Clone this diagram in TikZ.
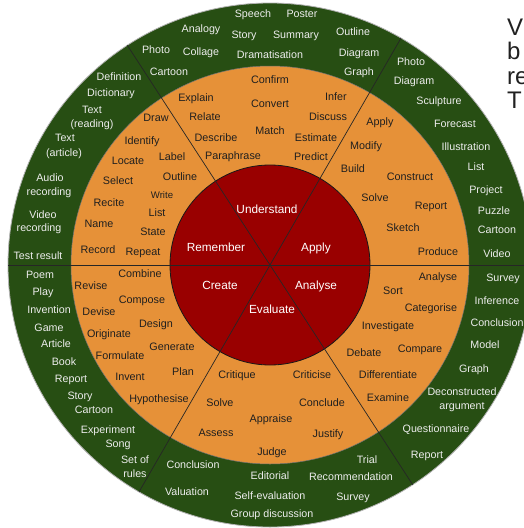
\documentclass[tikz,border=0pt]{standalone}
\usepackage{fontspec}
\setmainfont{Liberation Sans}
\definecolor{wheelgreen}{HTML}{274E13}
\definecolor{wheelorange}{HTML}{E69138}
\definecolor{wheelred}{HTML}{990000}
% label placed by the visual centre of its word
\newcommand\wlabel[5]{\node[#2, anchor=base] (#1) at (#3,#4+3.6) {#5};}
\begin{document}
\begin{tikzpicture}[x=1pt,y=-1pt,
  outtxt/.style={text=white!93!black, font=\fontsize{10.7}{13}\selectfont, inner sep=0pt},
  midtxt/.style={text=black!88, font=\fontsize{10.8}{13}\selectfont, inner sep=0pt},
  smalltxt/.style={midtxt, font=\fontsize{9.6}{12}\selectfont},
  coretxt/.style={text=white, font=\fontsize{11.8}{14}\selectfont, inner sep=0pt},
  sidetxt/.style={text=black!87, font=\fontsize{24}{24}\selectfont, inner sep=0pt, anchor=base west},
  divider/.style={draw=black!85, line width=0.7pt}]

\clip (0,0) rectangle (524,528);
\fill[white] (0,0) rectangle (524,528);
\coordinate (c) at (270,265);

% rings
\filldraw[fill=wheelgreen, draw=black!30, line width=0.8pt] (c) circle[radius=262];
\filldraw[fill=wheelorange, draw=black!55, line width=0.5pt] (c) circle[radius=199];
\filldraw[fill=wheelred, draw=black!90, line width=0.8pt] (c) circle[radius=100];

% ends of the three diameters (angles run clockwise here)
\path (c) ++(0:262) coordinate (e0);
\path (c) ++(180:262) coordinate (e180);
\path (c) ++(-60:262) coordinate (e60);
\path (c) ++(120:262) coordinate (e240);
\path (c) ++(-123:262) coordinate (e123);
\path (c) ++(57:262) coordinate (e303);
\draw[divider] (e0) -- (e180);
\draw[divider] (e60) -- (e240);
\draw[divider] (e123) -- (e303);

% core
\wlabel{r-understand}{coretxt}{267}{210}{Understand}
\wlabel{r-remember}{coretxt}{216}{248}{Remember}
\wlabel{r-apply}{coretxt}{316}{248}{Apply}
\wlabel{r-create}{coretxt}{220}{286}{Create}
\wlabel{r-analyse}{coretxt}{316}{286}{Analyse}
\wlabel{r-evaluate}{coretxt}{272}{310}{Evaluate}

% middle ring: verbs
\wlabel{o-confirm}{midtxt}{270}{80}{Confirm}
\wlabel{o-convert}{midtxt}{270}{104}{Convert}
\wlabel{o-match}{midtxt}{270}{131}{Match}
\wlabel{o-explain}{midtxt}{196}{98}{Explain}
\wlabel{o-relate}{midtxt}{205}{117}{Relate}
\wlabel{o-describe}{midtxt}{216}{138}{Describe}
\wlabel{o-paraphrase}{midtxt}{233}{156}{Paraphrase}
\wlabel{o-infer}{midtxt}{336}{97}{Infer}
\wlabel{o-discuss}{midtxt}{328}{117}{Discuss}
\wlabel{o-estimate}{midtxt}{316}{138}{Estimate}
\wlabel{o-predict}{midtxt}{311}{157}{Predict}
\wlabel{o-apply}{midtxt}{380}{122}{Apply}
\wlabel{o-modify}{midtxt}{366}{146}{Modify}
\wlabel{o-build}{midtxt}{353}{169}{Build}
\wlabel{o-construct}{midtxt}{410}{177}{Construct}
\wlabel{o-solve1}{midtxt}{375}{198}{Solve}
\wlabel{o-report}{midtxt}{431}{206}{Report}
\wlabel{o-sketch}{midtxt}{403}{228}{Sketch}
\wlabel{o-produce}{midtxt}{438}{252}{Produce}
\wlabel{o-analyse}{midtxt}{438}{277}{Analyse}
\wlabel{o-sort}{midtxt}{393}{291}{Sort}
\wlabel{o-categorise}{midtxt}{431}{308}{Categorise}
\wlabel{o-investigate}{midtxt}{388}{326}{Investigate}
\wlabel{o-debate}{midtxt}{364}{353}{Debate}
\wlabel{o-compare}{midtxt}{420}{349}{Compare}
\wlabel{o-differentiate}{midtxt}{388}{375}{Differentiate}
\wlabel{o-examine}{midtxt}{388}{398}{Examine}
\wlabel{o-criticise}{midtxt}{312}{375}{Criticise}
\wlabel{o-conclude}{midtxt}{322}{403}{Conclude}
\wlabel{o-justify}{midtxt}{328}{434}{Justify}
\wlabel{o-judge}{midtxt}{272}{452}{Judge}
\wlabel{o-appraise}{midtxt}{271}{419}{Appraise}
\wlabel{o-critique}{midtxt}{237}{375}{Critique}
\wlabel{o-solve2}{midtxt}{220}{403}{Solve}
\wlabel{o-assess}{midtxt}{216}{433}{Assess}
\wlabel{o-hypothesise}{midtxt}{159}{399}{Hypothesise}
\wlabel{o-invent}{midtxt}{130}{377}{Invent}
\wlabel{o-plan}{midtxt}{183}{372}{Plan}
\wlabel{o-formulate}{midtxt}{120}{356}{Formulate}
\wlabel{o-generate}{midtxt}{172}{347}{Generate}
\wlabel{o-originate}{midtxt}{109}{334}{Originate}
\wlabel{o-design}{midtxt}{156}{324}{Design}
\wlabel{o-devise}{midtxt}{99}{312}{Devise}
\wlabel{o-compose}{midtxt}{142}{300}{Compose}
\wlabel{o-revise}{midtxt}{91}{286}{Revise}
\wlabel{o-combine}{midtxt}{140}{274}{Combine}
\wlabel{o-record}{midtxt}{98}{250}{Record}
\wlabel{o-repeat}{midtxt}{143}{252}{Repeat}
\wlabel{o-state}{midtxt}{153}{232}{State}
\wlabel{o-name}{midtxt}{99}{224}{Name}
\wlabel{o-list}{midtxt}{157}{213}{List}
\wlabel{o-recite}{midtxt}{109}{203}{Recite}
\wlabel{o-write}{smalltxt}{162}{195}{Write}
\wlabel{o-select}{midtxt}{118}{181}{Select}
\wlabel{o-outline}{midtxt}{180}{177}{Outline}
\wlabel{o-locate}{midtxt}{128}{161}{Locate}
\wlabel{o-label}{midtxt}{172}{157}{Label}
\wlabel{o-identify}{midtxt}{142}{141}{Identify}
\wlabel{o-draw}{midtxt}{156}{118}{Draw}

% outer ring: products
\wlabel{g-speech}{outtxt}{253}{14}{Speech}
\wlabel{g-poster}{outtxt}{302}{14}{Poster}
\wlabel{g-analogy}{outtxt}{201}{29}{Analogy}
\wlabel{g-story1}{outtxt}{244}{35}{Story}
\wlabel{g-summary}{outtxt}{296}{35}{Summary}
\wlabel{g-outline}{outtxt}{353}{32}{Outline}
\wlabel{g-photo1}{outtxt}{156}{50}{Photo}
\wlabel{g-collage}{outtxt}{201}{52}{Collage}
\wlabel{g-drama}{outtxt}{270}{55}{Dramatisation}
\wlabel{g-diagram1}{outtxt}{359}{53}{Diagram}
\wlabel{g-cartoon1}{outtxt}{169}{72}{Cartoon}
\wlabel{g-graph1}{outtxt}{359}{72}{Graph}
\wlabel{g-definition}{outtxt}{119}{77}{Definition}
\wlabel{g-dictionary}{outtxt}{111}{93}{Dictionary}
\wlabel{g-text1a}{outtxt}{92}{110}{Text}
\wlabel{g-text1b}{outtxt}{92}{124}{(reading)}
\wlabel{g-text2a}{outtxt}{65}{138}{Text}
\wlabel{g-text2b}{outtxt}{64}{153}{(article)}
\wlabel{g-audio-a}{outtxt}{50}{178}{Audio}
\wlabel{g-audio-b}{outtxt}{49}{192}{recording}
\wlabel{g-video-a}{outtxt}{43}{215}{Video}
\wlabel{g-video-b}{outtxt}{39}{228}{recording}
\wlabel{g-test}{outtxt}{38}{256}{Test result}
\wlabel{g-poem}{outtxt}{40}{275}{Poem}
\wlabel{g-play}{outtxt}{43}{292}{Play}
\wlabel{g-invention}{outtxt}{49}{310}{Invention}
\wlabel{g-game}{outtxt}{49}{328}{Game}
\wlabel{g-article}{outtxt}{56}{344}{Article}
\wlabel{g-book}{outtxt}{64}{362}{Book}
\wlabel{g-report1}{outtxt}{71}{379}{Report}
\wlabel{g-story2}{outtxt}{80}{396}{Story}
\wlabel{g-cartoon2}{outtxt}{94}{410}{Cartoon}
\wlabel{g-experiment}{outtxt}{108}{430}{Experiment}
\wlabel{g-song}{outtxt}{118}{444}{Song}
\wlabel{g-set-a}{outtxt}{135}{460}{Set of}
\wlabel{g-set-b}{outtxt}{135}{474}{rules}
\wlabel{g-conclusion1}{outtxt}{193}{465}{Conclusion}
\wlabel{g-valuation}{outtxt}{187}{492}{Valuation}
\wlabel{g-editorial}{outtxt}{270}{476}{Editorial}
\wlabel{g-selfeval}{outtxt}{270}{496}{Self-evaluation}
\wlabel{g-group}{outtxt}{272}{514}{Group discussion}
\wlabel{g-trial}{outtxt}{367}{460}{Trial}
\wlabel{g-recommend}{outtxt}{351}{477}{Recommendation}
\wlabel{g-survey1}{outtxt}{353}{497}{Survey}
\wlabel{g-question}{outtxt}{436}{429}{Questionnaire}
\wlabel{g-report2}{outtxt}{427}{455}{Report}
\wlabel{g-decon-a}{outtxt}{462}{392}{Deconstructed}
\wlabel{g-decon-b}{outtxt}{462}{406}{argument}
\wlabel{g-graph2}{outtxt}{474}{369}{Graph}
\wlabel{g-model}{outtxt}{485}{345}{Model}
\wlabel{g-conclusion2}{outtxt}{497}{323}{Conclusion}
\wlabel{g-inference}{outtxt}{497}{301}{Inference}
\wlabel{g-survey2}{outtxt}{503}{278}{Survey}
\wlabel{g-video}{outtxt}{497}{254}{Video}
\wlabel{g-cartoon3}{outtxt}{497}{230}{Cartoon}
\wlabel{g-puzzle}{outtxt}{494}{211}{Puzzle}
\wlabel{g-project}{outtxt}{486}{190}{Project}
\wlabel{g-list}{outtxt}{476}{167}{List}
\wlabel{g-illustration}{outtxt}{466}{147}{Illustration}
\wlabel{g-forecast}{outtxt}{455}{124}{Forecast}
\wlabel{g-sculpture}{outtxt}{439}{101}{Sculpture}
\wlabel{g-diagram2}{outtxt}{414}{81}{Diagram}
\wlabel{g-photo2}{outtxt}{411}{62}{Photo}

% text column at the right edge
\node[sidetxt] (s1) at (507,35) {V};
\node[sidetxt] (s2) at (507,59.5) {b};
\node[sidetxt] (s3) at (507,84) {re};
\node[sidetxt] (s4) at (507,108.5) {T};
\end{tikzpicture}
\end{document}
